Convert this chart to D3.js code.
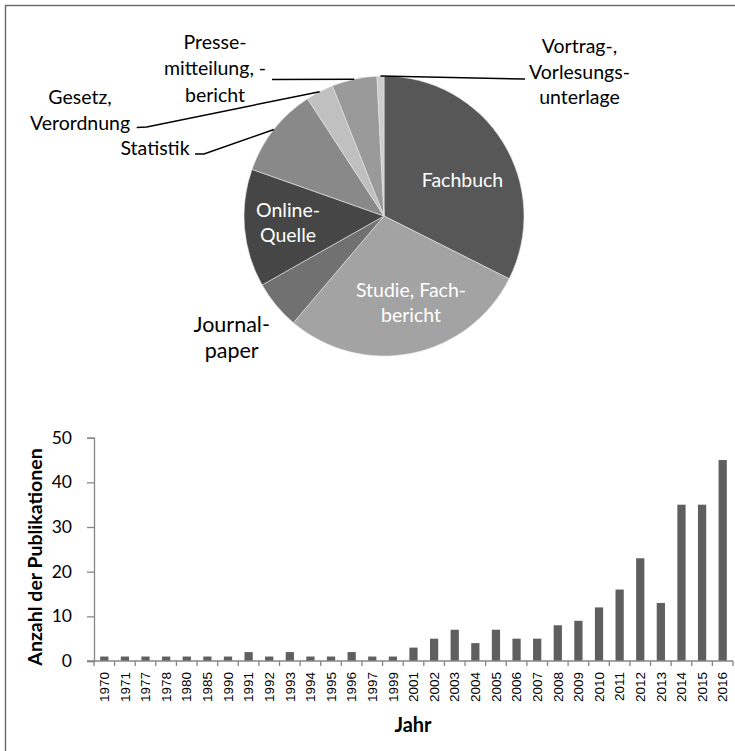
<!DOCTYPE html>
<html>
<head>
<meta charset="utf-8">
<script src="https://cdn.jsdelivr.net/npm/d3@7"></script>
<style>
  html, body { margin: 0; padding: 0; background: #fff; }
  svg { display: block; }
</style>
</head>
<body>
<svg id="chart" width="735" height="751"></svg>
<script>
// ---------- DATA ----------
const pieCategories = ["Fachbuch", "Studie, Fachbericht", "Journalpaper", "Online-Quelle", "Statistik",
  "Gesetz, Verordnung", "Pressemitteilung, -bericht", "Vortrag-, Vorlesungsunterlage"];
const pieLabelLines = [["Fachbuch"], ["Studie, Fach-", "bericht"], ["Journal-", "paper"], ["Online-", "Quelle"],
  ["Statistik"], ["Gesetz,", "Verordnung"], ["Presse-", "mitteilung, -", "bericht"], ["Vortrag-,", "Vorlesungs-", "unterlage"]];
const pieValues = [81, 72, 14, 34, 26, 8, 13, 2];
const pieColors = ["#575757", "#a3a3a3", "#717171", "#464646", "#898989", "#c0c0c0", "#9a9a9a", "#cdcdcd"];

const years = ["1970", "1971", "1977", "1978", "1980", "1985", "1990", "1991", "1992", "1993", "1994", "1995",
  "1996", "1997", "1999", "2001", "2002", "2003", "2004", "2005", "2006", "2007", "2008", "2009", "2010",
  "2011", "2012", "2013", "2014", "2015", "2016"];
const counts = [1, 1, 1, 1, 1, 1, 1, 2, 1, 2, 1, 1, 2, 1, 1, 3, 5, 7, 4, 7, 5, 5, 8, 9, 12, 16, 23, 13, 35, 35, 45];
const yTicks = [0, 10, 20, 30, 40, 50];
const yTitle = "Anzahl der Publikationen";
const xTitle = "Jahr";

// ---------- LAYOUT ----------
const svg = d3.select("#chart");
const FONT = "Lato, 'Open Sans', sans-serif";

// outer frame
svg.append("rect").attr("x", 5.5).attr("y", 5.5).attr("width", 760).attr("height", 780)
  .attr("fill", "none").attr("stroke", "#666").attr("stroke-width", 1.4);

// ---------- PIE ----------
const cx = 384, cy = 216, R = 140;
const pieG = svg.append("g").attr("transform", `translate(${cx},${cy})`);
const pie = d3.pie().sort(null).value(d => d)(pieValues);
const arc = d3.arc().innerRadius(0).outerRadius(R);

pieG.selectAll("path.slice").data(pie).join("path")
  .attr("class", "slice")
  .attr("d", arc)
  .attr("fill", (d, i) => pieColors[i])
  .attr("stroke", "#e8e8e8").attr("stroke-width", 0.6);

// label placement (relative to pie centre): baseline of first line, line height, colour, size
const labelLayout = [
  { dx: 78.5, dy: -29.5, lh: 24.5, color: "#fff", size: 19.5 },
  { dx: 27, dy: 81.3, lh: 24.5, color: "#fff", size: 19.5 },
  { dx: -152.3, dy: 115.7, lh: 26.5, color: "#000", size: 21.5 },
  { dx: -96, dy: 1.3, lh: 24.5, color: "#fff", size: 19.5 },
  { dx: -229, dy: -61.5, lh: 25.5, color: "#000", size: 19.5 },
  { dx: -304, dy: -112.5, lh: 26, color: "#000", size: 19.5 },
  { dx: -169, dy: -167.5, lh: 26.5, color: "#000", size: 19.5 },
  { dx: 195.5, dy: -163, lh: 25.5, color: "#000", size: 19.5 }
];
// leader line bend points (relative to centre) for outside labels
const leaderBends = {
  4: [[-180, -62], [-189, -62]],
  5: [[-237.3, -89], [-247.3, -88.5]],
  6: [[-112, -136.5]],
  7: [[141, -137]]
};

Object.entries(leaderBends).forEach(([k, bends]) => {
  const d = pie[+k];
  const a = (d.startAngle + d.endAngle) / 2;
  const start = [R * Math.sin(a), -R * Math.cos(a)];
  pieG.append("path")
    .attr("d", d3.line()([start, ...bends]))
    .attr("fill", "none").attr("stroke", "#000").attr("stroke-width", 1.5);
});

pieLabelLines.forEach((lines, i) => {
  const L = labelLayout[i];
  const t = pieG.append("text")
    .attr("x", L.dx).attr("y", L.dy)
    .attr("text-anchor", "middle")
    .attr("font-family", FONT).attr("font-size", L.size)
    .attr("fill", L.color);
  lines.forEach((ln, j) => {
    t.append("tspan").attr("x", L.dx).attr("y", L.dy + j * L.lh).text(ln);
  });
});

// ---------- BAR CHART ----------
const plot = { left: 94, right: 733, top: 437.7, bottom: 661 };
const x = d3.scaleBand().domain(years).range([plot.left, plot.right]).paddingInner(0.6).paddingOuter(0.3);
const y = d3.scaleLinear().domain([0, 50]).range([plot.bottom, plot.top]);

svg.append("g").selectAll("rect.bar").data(counts).join("rect")
  .attr("class", "bar")
  .attr("x", (d, i) => x(years[i]))
  .attr("width", x.bandwidth())
  .attr("y", d => y(d))
  .attr("height", d => y(0) - y(d))
  .attr("fill", "#5f5f5f");

// y axis
const yAxis = svg.append("g").attr("transform", `translate(${plot.left},0)`)
  .call(d3.axisLeft(y).tickValues(yTicks).tickSize(7).tickPadding(15).tickFormat(d3.format("d")));
yAxis.select(".domain").attr("stroke", "#868686").attr("stroke-width", 1.3);
yAxis.selectAll(".tick line").attr("stroke", "#868686").attr("stroke-width", 1.3);
yAxis.selectAll(".tick text").attr("font-family", FONT).attr("font-size", 17.5).attr("fill", "#000");

// x axis
const step = x.step();
const xAxis = svg.append("g").attr("transform", `translate(0,${plot.bottom})`)
  .call(d3.axisBottom(x).tickSize(0).tickPadding(10));
xAxis.select(".domain").remove();
xAxis.append("line").attr("x1", plot.left - 7).attr("x2", plot.right).attr("y1", 0).attr("y2", 0)
  .attr("stroke", "#868686").attr("stroke-width", 1.3);
xAxis.selectAll("line.bound").data(d3.range(years.length + 1)).join("line")
  .attr("class", "bound")
  .attr("x1", i => plot.left + i * step).attr("x2", i => plot.left + i * step)
  .attr("y1", 0).attr("y2", 5)
  .attr("stroke", "#868686").attr("stroke-width", 1.3);
xAxis.selectAll(".tick text")
  .attr("font-family", "'Liberation Sans', Arial, sans-serif").attr("font-size", 13.5).attr("fill", "#000")
  .attr("transform", "rotate(-90)")
  .attr("text-anchor", "end")
  .attr("x", -11).attr("y", 0).attr("dy", "0.35em");

// axis titles
svg.append("text")
  .attr("transform", `translate(42,${557}) rotate(-90)`)
  .attr("text-anchor", "middle")
  .attr("font-family", FONT).attr("font-weight", "bold").attr("font-size", 19.5)
  .attr("fill", "#000").text(yTitle);

svg.append("text")
  .attr("x", 413).attr("y", 731.5)
  .attr("text-anchor", "middle")
  .attr("font-family", FONT).attr("font-weight", "bold").attr("font-size", 20)
  .attr("fill", "#000").text(xTitle);
</script>
</body>
</html>
